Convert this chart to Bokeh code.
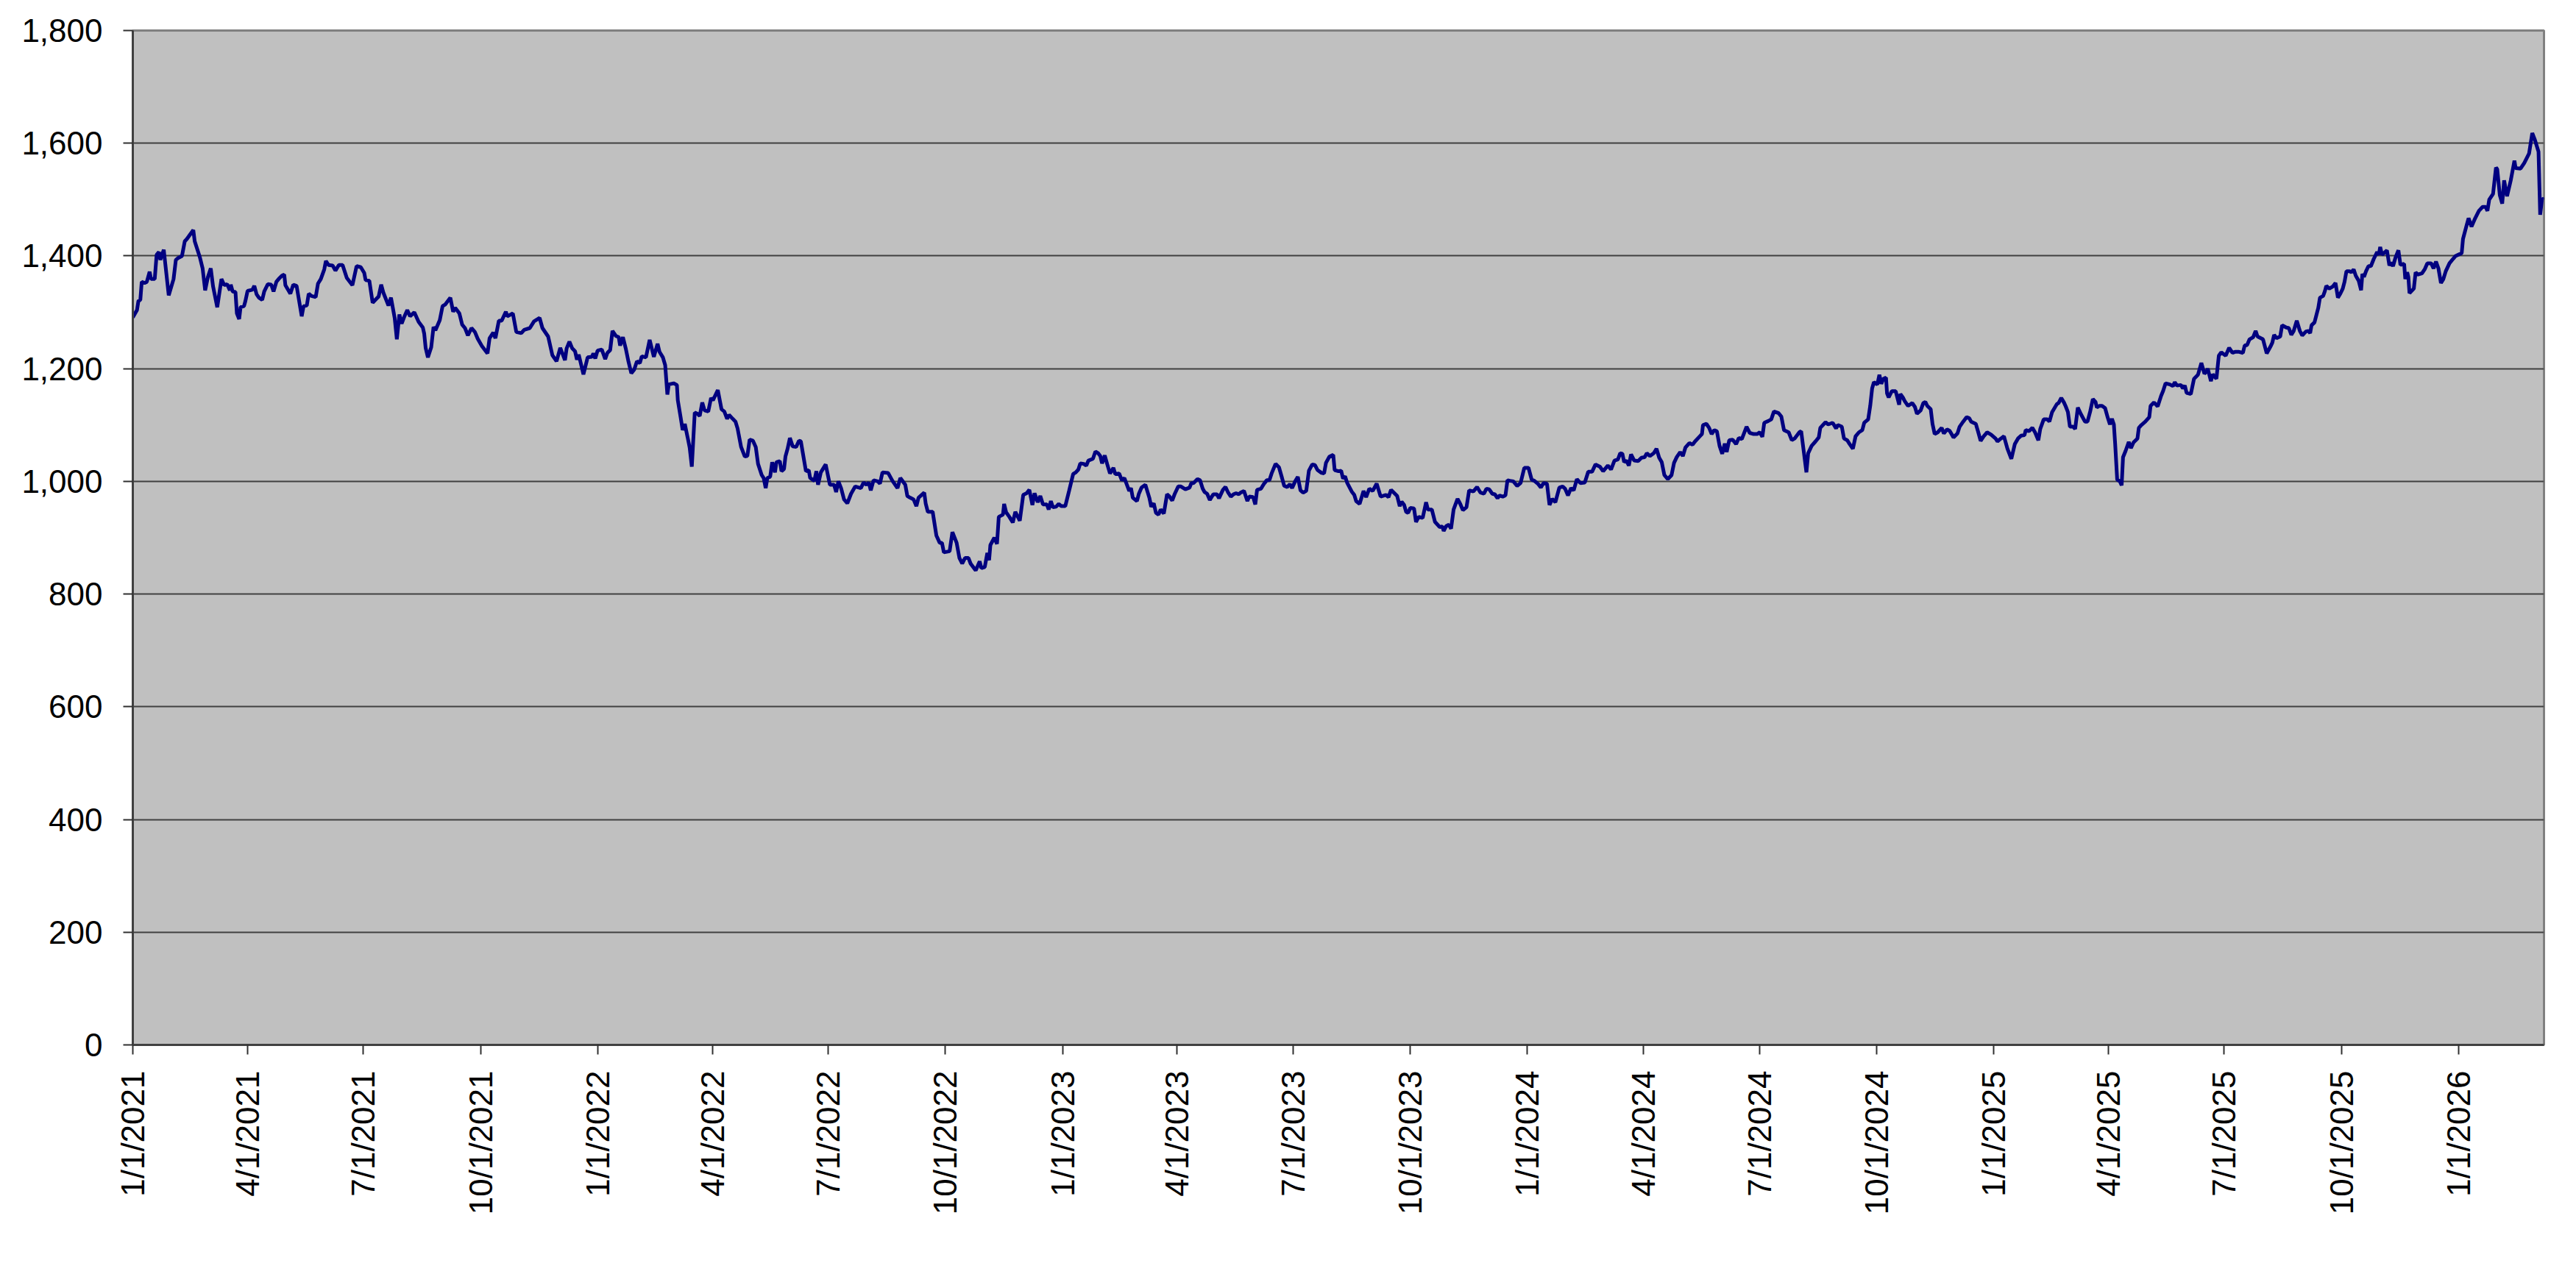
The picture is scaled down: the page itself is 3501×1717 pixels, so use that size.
import numpy as np
import pandas as pd
from bokeh.plotting import figure
from bokeh.models import (DatetimeTickFormatter, MonthsTicker, NumeralTickFormatter,
                          SingleIntervalTicker, Range1d)
from bokeh.embed import file_html
from bokeh.resources import INLINE

# (days since 2021-01-01, index value)
seg_2021 = [(0, 1291), (3.3, 1304), (4.4, 1320), (5.9, 1322), (7.0, 1354), (9.2, 1352), (11, 1354),
    (13.2, 1372), (14.3, 1359), (17.2, 1359), (18.7, 1402), (20.5, 1407), (21.6, 1393), (24.3, 1411),
    (28.2, 1330), (32, 1359), (33.8, 1393), (35.3, 1396), (38.6, 1400), (40.8, 1426), (42.4, 1430),
    (47.5, 1446), (48.6, 1426), (52.6, 1398), (54.8, 1378), (56.8, 1339), (59, 1363), (61.2, 1378),
    (63, 1346), (66.3, 1309), (69.6, 1359), (71.8, 1348), (74, 1350), (76.2, 1339), (76.9, 1349),
    (78.4, 1337), (80.6, 1336), (81.7, 1298), (83.5, 1288), (84.6, 1309), (87.3, 1311), (88.4, 1320),
    (90.1, 1338), (93.9, 1340), (95.4, 1347), (97.2, 1332), (99, 1326), (101.6, 1322), (103.2, 1337),
    (106, 1350), (108.7, 1349), (110.5, 1337), (112.7, 1354), (114.5, 1359), (117.1, 1365),
    (118.9, 1367), (119.8, 1348), (123.7, 1333), (126, 1349), (128.6, 1347), (132.6, 1293),
    (134.1, 1311), (136.6, 1312), (138.1, 1333), (140.3, 1329), (143.6, 1327), (145.4, 1351),
    (147.6, 1359), (150.3, 1376), (151.6, 1391), (153.6, 1384), (156.9, 1383), (159.1, 1374),
    (161.8, 1384), (164.7, 1384), (168, 1361), (172.4, 1348), (175.7, 1382), (179, 1380),
    (181.7, 1370), (182.8, 1357), (185.7, 1356), (188.3, 1317), (191.2, 1324), (193, 1328),
    (195, 1349), (196.7, 1335), (200.7, 1312), (202.7, 1326), (205.6, 1290), (207.3, 1252),
    (209.3, 1296), (211.1, 1280), (213.3, 1293), (215.5, 1304), (217.7, 1293), (221, 1300),
    (224.4, 1283), (227.7, 1273), (228.8, 1262), (229.9, 1237), (231.7, 1220), (234.3, 1238),
    (236.1, 1274), (237.6, 1268), (241, 1286), (243.2, 1311), (245.4, 1314), (249.3, 1326),
    (251.5, 1301), (253.1, 1308), (256.4, 1298), (258.6, 1278), (260.8, 1272), (263.1, 1259),
    (265.9, 1272), (268.6, 1265), (270.8, 1253), (274.1, 1240), (278.5, 1227), (280.1, 1254),
    (283, 1264), (284.7, 1254), (287.4, 1285), (289.6, 1285), (292.9, 1301), (294, 1293),
    (298.4, 1298), (301.1, 1265), (305, 1263), (307.3, 1269), (311.7, 1272), (315, 1284),
    (319.4, 1290), (321.6, 1272), (326.1, 1257), (329.4, 1224), (332.7, 1213), (335.6, 1237),
    (339.3, 1215)]

seg_2022 = [(340.6, 1236), (342.8, 1248), (345, 1236), (347.2, 1231), (348.7, 1216), (350.1, 1225),
    (353.8, 1190), (357.1, 1220), (360.5, 1221), (361.6, 1227), (363.1, 1218), (364.9, 1232),
    (368.2, 1234), (370.9, 1217), (372.6, 1228), (374.8, 1233), (376.6, 1267), (379.3, 1258),
    (381.5, 1256), (382.6, 1241), (384.8, 1256), (387, 1236), (389.2, 1212), (391.4, 1192),
    (393.6, 1198), (395.8, 1213), (398.1, 1210), (399.6, 1222), (402.9, 1220), (405.8, 1251),
    (409.1, 1221), (412, 1244), (413.5, 1230), (416.2, 1220), (418, 1206), (419.7, 1154),
    (420.8, 1172), (424.6, 1174), (427.2, 1171), (427.9, 1144), (430.1, 1114), (431.7, 1091),
    (433.4, 1102), (435.6, 1078), (437.2, 1060), (438.9, 1026), (441.2, 1122), (443.4, 1120),
    (445.1, 1116), (447.1, 1140), (448.9, 1126), (451.8, 1124), (454, 1148), (455.5, 1144),
    (459.3, 1162), (462.2, 1128), (464.4, 1124), (466.6, 1111), (468.1, 1118), (471, 1111),
    (473.2, 1106), (474.8, 1094), (477.6, 1061), (480.5, 1044), (482.5, 1045), (484.3, 1074),
    (486.9, 1072), (489.1, 1061), (490.9, 1031), (493.8, 1011), (495.3, 1006), (496.9, 988),
    (498.2, 1006), (500.4, 1008), (502, 1034), (504.2, 1016), (505.3, 1034), (508, 1036),
    (509.3, 1018), (511.3, 1022), (512.4, 1044), (514.1, 1058), (515.9, 1077), (518.1, 1062),
    (520.8, 1061), (523, 1072), (524.5, 1071), (528.5, 1018), (530.7, 1020), (531.8, 1006),
    (535.1, 1001), (536.7, 1018), (538, 994), (540.2, 1016), (544, 1030), (547.3, 994),
    (550.6, 994), (552.2, 981), (554, 1000), (556.1, 988), (558.4, 968), (561, 961), (563.9, 978),
    (567.2, 991), (571.6, 988), (573.8, 998), (576, 994), (577.8, 998), (579.4, 984), (581.6, 1002),
    (584.9, 1000), (586.6, 996), (588.6, 1016), (593, 1015), (596.4, 1001), (600.4, 988),
    (602.6, 1006), (606.5, 994), (608.1, 974), (610.3, 971), (613, 968), (615.2, 956), (616.9, 971),
    (621.4, 980), (622.5, 961), (624.2, 946), (628, 946), (630.9, 904), (633.5, 891), (635.3, 891),
    (636.8, 874), (641.3, 876), (643.5, 910), (646.8, 891), (649, 864), (651.2, 854), (653.4, 864),
    (656.1, 864), (657.8, 854), (661.8, 842), (664.9, 858), (666.2, 846), (668.9, 848)]

seg_2023a = [(670.9, 873), (672.3, 860), (673.3, 887), (676.4, 900), (678.5, 889), (679.9, 937),
    (683.2, 941), (684.1, 960), (685.7, 945), (688.2, 937), (690.9, 927), (692.9, 946), (696.4, 930),
    (699.1, 976), (701.8, 979), (703.9, 985), (706.3, 958), (708, 979), (710.5, 963), (712.5, 974),
    (714.6, 959), (717.7, 959), (719.1, 950), (720.8, 965), (722.4, 954), (724.9, 955), (727, 960),
    (729, 956), (732.1, 956), (735.2, 984), (738.3, 1013), (740.4, 1016), (742.4, 1021),
    (743.9, 1032), (746.6, 1031), (748.6, 1028), (750.3, 1037), (753.8, 1040), (755.8, 1053),
    (757.9, 1050), (759.6, 1045), (761, 1032), (763.1, 1046), (765.1, 1030), (767.2, 1014),
    (769.9, 1024), (771.3, 1013), (774.4, 1014), (776.5, 1002), (778.5, 1006), (782.3, 983),
    (783.7, 988), (785.1, 971), (788.4, 965), (789.9, 978), (792, 989), (795, 994), (798.1, 971),
    (799.6, 955), (801.6, 961), (803.3, 944), (805.3, 941), (807, 950), (809.5, 943), (812, 977),
    (813.6, 974), (816.1, 966), (818.1, 978), (820.8, 991), (822.9, 991), (826.4, 986), (829.7, 989),
    (831.1, 997), (832.8, 997), (835.9, 1004), (837.9, 1002), (840, 987), (841.5, 981), (843.5, 978),
    (845.6, 967), (848.3, 977), (851.2, 977), (852.8, 970), (855.9, 985), (857.9, 990), (860, 980),
    (862.1, 973), (864.1, 977), (866.2, 979), (868.3, 977), (869.7, 980), (872.4, 983), (875.1, 965),
    (876.5, 973), (879.6, 972), (881.3, 959), (882.7, 985), (885.8, 987), (887.9, 995),
    (890.3, 1002), (892.4, 1002), (894.1, 1014), (897.2, 1031), (899.9, 1025), (902.3, 1006),
    (904, 992), (906.4, 990), (908.5, 995), (910.2, 988), (912.6, 1000), (914.7, 1008), (916.8, 984),
    (918.8, 980), (921.3, 983), (923.4, 1019), (926, 1030), (928.1, 1029), (930.2, 1020),
    (933.3, 1015), (935.3, 1014), (936.8, 1033), (939.5, 1044), (942.5, 1047), (943.6, 1020),
    (946.7, 1018), (948.7, 1019), (950.2, 1005), (951.8, 1009), (953.5, 997), (957, 982), (959, 976),
    (960.5, 965), (963.2, 960), (966.3, 983), (968.3, 972), (970.8, 987), (973.5, 983), (976.6, 996),
    (979.7, 973), (983.8, 976), (985.9, 972), (987.9, 985)]

seg_2023b = [(992.7, 974), (994.7, 956), (996.2, 964), (998.2, 958), (999.7, 946), (1001.3, 944),
    (1003, 953), (1005.9, 952), (1007.5, 928), (1009.6, 937), (1012.7, 935), (1015.4, 963),
    (1016.8, 950), (1019.9, 950), (1022.4, 928), (1026.1, 919), (1028.2, 920), (1029.2, 912),
    (1031.3, 921), (1033.3, 923), (1035, 916), (1037, 950), (1040.1, 969), (1042.2, 960),
    (1044.3, 949), (1047.1, 954), (1049.2, 984), (1052.5, 982), (1055.4, 990), (1058.1, 980),
    (1060.8, 978), (1062.8, 987), (1064.9, 986), (1067.4, 978), (1069.4, 977), (1071.5, 970),
    (1073.1, 975), (1075.6, 973), (1077.7, 975), (1079.3, 1002), (1081.4, 1001), (1083.9, 1000),
    (1086.9, 992), (1089.6, 997), (1092.5, 1024), (1095.8, 1024), (1098.3, 1003), (1100.4, 1001),
    (1103.5, 995), (1105.5, 989), (1107.6, 997), (1110.3, 996), (1112.3, 958), (1114.4, 969),
    (1116.9, 963), (1120, 989), (1122.6, 991), (1124.5, 987), (1126.8, 975), (1129.2, 988),
    (1131.3, 984), (1133.8, 1004), (1136.5, 997), (1140, 998), (1142.7, 1017), (1145.7, 1017),
    (1148.4, 1030), (1151.9, 1026), (1154.4, 1018), (1158.1, 1028), (1160.6, 1021), (1163.3, 1037),
    (1166, 1039), (1167.8, 1050), (1169.5, 1049), (1170.9, 1034), (1172.6, 1037), (1174.6, 1028),
    (1176.3, 1048), (1178.8, 1037), (1181.9, 1036), (1184.5, 1042), (1187, 1043), (1188.7, 1050),
    (1191.1, 1045), (1194.2, 1050), (1196.3, 1058), (1198.4, 1042), (1200.4, 1034), (1202.5, 1011),
    (1205.2, 1004), (1208.1, 1011), (1210.1, 1033), (1212.2, 1043), (1214.9, 1052), (1217, 1045),
    (1219, 1060), (1222.1, 1068), (1224.6, 1065), (1226.6, 1071), (1229.9, 1079), (1232, 1084),
    (1232.8, 1100), (1235.5, 1102), (1237.6, 1095), (1239.6, 1084), (1241.7, 1091), (1243.7, 1089),
    (1245.8, 1063), (1247.9, 1049), (1249.9, 1067), (1251.4, 1052), (1253.4, 1073), (1256.1, 1074),
    (1258.8, 1066), (1260.9, 1077), (1263.3, 1075), (1267, 1097), (1269.5, 1086), (1272.6, 1084),
    (1275.3, 1084), (1277.4, 1087), (1279.4, 1079), (1280.9, 1104), (1284, 1107), (1286.4, 1110),
    (1288.5, 1124), (1292.2, 1121), (1294.3, 1115), (1296.4, 1091), (1300.1, 1087), (1302.5, 1073),
    (1304.7, 1076)]

seg_2024 = [(1308.4, 1087), (1309.9, 1089), (1314, 1016), (1315.4, 1050), (1318.1, 1063),
    (1321.2, 1071), (1323.7, 1078), (1324.9, 1095), (1329, 1105), (1331.1, 1101), (1334.6, 1104),
    (1337.3, 1094), (1338.7, 1100), (1341.8, 1097), (1343.5, 1076), (1346, 1073), (1348, 1066),
    (1350.5, 1058), (1352.6, 1080), (1355.2, 1087), (1357.9, 1091), (1359.4, 1104), (1362.5, 1110),
    (1364.1, 1134), (1365.6, 1165), (1367, 1176), (1369.7, 1172), (1371.3, 1189), (1372.8, 1173),
    (1374.4, 1182), (1376.5, 1184), (1377.3, 1156), (1378.6, 1149), (1381, 1160), (1384.1, 1160),
    (1386.8, 1136), (1387.8, 1155), (1389.7, 1149), (1391.3, 1142), (1393.8, 1134), (1397.1, 1139),
    (1399.2, 1132), (1400.8, 1120), (1403.7, 1126), (1405.8, 1139), (1407.4, 1141), (1408.9, 1134),
    (1411.6, 1128), (1413, 1102), (1414.7, 1084), (1417.1, 1087), (1420.2, 1095), (1421.9, 1085),
    (1424.4, 1092), (1426.4, 1090), (1429.5, 1078), (1432.6, 1085), (1434.3, 1097), (1437.1, 1106),
    (1439.8, 1114), (1441.9, 1112), (1443.3, 1106), (1447, 1102), (1448.7, 1089), (1450.8, 1072),
    (1453.2, 1080), (1455.9, 1087), (1459, 1083), (1462.5, 1076), (1464, 1071), (1466.7, 1076),
    (1469.1, 1080), (1471.8, 1058), (1474.9, 1040), (1477.6, 1066), (1480.1, 1076), (1482.5, 1081),
    (1485.2, 1082), (1486.2, 1091), (1488.7, 1089), (1491.4, 1095), (1493.5, 1087), (1496.1, 1073),
    (1497.6, 1093), (1500.3, 1110), (1503.2, 1110), (1504.8, 1106), (1506.9, 1123), (1510.6, 1137),
    (1512, 1139), (1514.1, 1148), (1516.2, 1140), (1517.6, 1133), (1519.3, 1123), (1520.9, 1097),
    (1523.4, 1097), (1525, 1093), (1527.1, 1131), (1529.6, 1119), (1532.7, 1106), (1534.7, 1106),
    (1536.8, 1124), (1538.9, 1146), (1541, 1141), (1542, 1131), (1544, 1134), (1546.1, 1134),
    (1548.5, 1130), (1550.6, 1113), (1552.3, 1101), (1553.9, 1111), (1555.4, 1101), (1556.4, 1067),
    (1558.0, 1003), (1560.1, 1000), (1561.5, 993), (1562.6, 1043), (1564.6, 1054), (1567.1, 1070),
    (1568.8, 1059), (1570.8, 1069), (1573.9, 1076), (1575, 1095), (1577, 1100), (1580.1, 1106),
    (1583.2, 1114), (1584.2, 1134), (1586.9, 1140), (1589.8, 1133), (1592.5, 1152), (1594, 1160),
    (1596, 1174), (1599.3, 1172), (1601.8, 1169), (1603.2, 1176), (1604.9, 1170), (1608, 1171),
    (1609.6, 1165), (1611.1, 1170), (1612.5, 1157), (1615.8, 1155), (1618.3, 1182), (1621.4, 1189),
    (1624.1, 1210), (1626.5, 1191), (1628.2, 1195)]

seg_2025 = [(1629.1, 1200), (1631.6, 1178), (1633.0, 1190), (1635.9, 1182), (1637.8, 1223),
    (1639.7, 1229), (1643.2, 1223), (1645.9, 1237), (1648.5, 1228), (1650.9, 1230), (1653.2, 1230),
    (1656.7, 1228), (1658.1, 1241), (1660.0, 1242), (1661.9, 1252), (1664.8, 1256), (1666.7, 1267),
    (1668.2, 1257), (1672.5, 1252), (1675.4, 1227), (1678.3, 1239), (1679.8, 1246), (1681.2, 1260),
    (1683.1, 1254), (1686.0, 1257), (1687.5, 1277), (1690.8, 1273), (1692.8, 1272), (1694.7, 1260),
    (1696.6, 1267), (1699.0, 1285), (1701.4, 1267), (1703.3, 1259), (1706.2, 1266), (1708.2, 1267),
    (1709.5, 1263), (1710.6, 1277), (1712.9, 1282), (1714.4, 1295), (1715.9, 1308), (1717.2, 1326),
    (1719.7, 1329), (1721.0, 1337), (1722.2, 1347), (1724.5, 1342), (1727.4, 1346), (1729.4, 1352),
    (1731.3, 1326), (1733.2, 1333), (1735.1, 1342), (1736.5, 1354), (1738.0, 1373), (1740.3, 1373),
    (1741.8, 1371), (1743.7, 1376), (1745.3, 1365), (1747.6, 1356), (1749.5, 1339), (1750.5, 1368),
    (1751.8, 1363), (1753.4, 1373), (1755.3, 1382), (1757.2, 1382), (1759.5, 1395), (1762.1, 1407),
    (1763.4, 1402), (1764.5, 1416), (1765.9, 1402), (1767.9, 1406), (1769.8, 1410), (1771.7, 1383),
    (1773.0, 1388), (1774.6, 1382), (1776.5, 1397), (1778.8, 1410), (1780.4, 1384), (1783.3, 1386),
    (1784.2, 1359), (1785.7, 1371), (1786.6, 1363), (1787.5, 1334), (1790.9, 1342), (1792.3, 1371),
    (1793.9, 1367), (1797.3, 1369), (1799.6, 1377), (1801.5, 1387), (1804.5, 1387), (1806.4, 1378),
    (1808.3, 1390), (1810.2, 1378), (1812.2, 1352), (1814.1, 1359), (1816.0, 1373), (1818.9, 1387),
    (1821.8, 1395), (1823.7, 1400), (1828.5, 1405), (1829.5, 1430), (1832.3, 1454), (1833.9, 1467),
    (1836.2, 1452), (1839.1, 1467), (1842.0, 1480), (1844.9, 1487), (1847.3, 1487), (1848.7, 1480),
    (1850.1, 1500), (1853.1, 1510), (1855.4, 1557), (1856.4, 1554), (1858.4, 1508), (1860.3, 1493),
    (1861.8, 1534), (1864.1, 1506), (1867.0, 1534), (1869.9, 1569), (1870.8, 1556), (1874.7, 1555),
    (1877.6, 1565), (1881.4, 1582), (1883.9, 1618), (1885.8, 1607), (1888.8, 1585), (1890.1, 1473),
    (1891.6, 1502), (1893.1, 1500)]

start_date = pd.Timestamp("2021-01-01")
y_ticks_interval = 200
y_max = 1800

pairs = seg_2021 + seg_2022 + seg_2023a + seg_2023b + seg_2024 + seg_2025
days = np.array([d for d, _ in pairs], dtype=float)
values = np.array([v for _, v in pairs], dtype=float)
dates = start_date + pd.to_timedelta(days, unit="D")

p = figure(width=3484, height=1700, x_axis_type="datetime",
           output_backend="svg", toolbar_location=None,
           x_range=Range1d(start_date, dates[-1]), y_range=Range1d(0, y_max),
           min_border_left=180, min_border_right=27, min_border_top=41, min_border_bottom=280)

p.background_fill_color = "#C0C0C0"
p.border_fill_color = "white"
p.outline_line_color = "#808080"
p.outline_line_width = 3

p.xgrid.visible = False
p.ygrid.grid_line_color = "#404040"
p.ygrid.grid_line_width = 2

fmt = "%-m/%-d/%Y"
# BokehJS months are zero-based: 0 = January
p.xaxis.ticker = MonthsTicker(months=[0, 3, 6, 9])
p.xaxis.formatter = DatetimeTickFormatter(days=fmt, months=fmt, years=fmt)
p.xaxis.major_label_orientation = np.pi / 2
p.xaxis.major_label_standoff = 22

p.yaxis.ticker = SingleIntervalTicker(interval=y_ticks_interval, num_minor_ticks=0)
p.yaxis.formatter = NumeralTickFormatter(format="0,0")
p.yaxis.major_label_standoff = 28

for ax in (p.xaxis, p.yaxis):
    ax.minor_tick_line_color = None
    ax.major_tick_in = 0
    ax.major_tick_out = 13
    ax.major_tick_line_color = "#303030"
    ax.major_tick_line_width = 2
    ax.axis_line_color = "#404040"
    ax.axis_line_width = 3
    ax.major_label_text_font = "Liberation Sans"
    ax.major_label_text_font_size = "44px"
    ax.major_label_text_color = "black"

p.line(dates, values, line_color="#000080", line_width=5)

open("out.html", "w").write(file_html(p, INLINE))
